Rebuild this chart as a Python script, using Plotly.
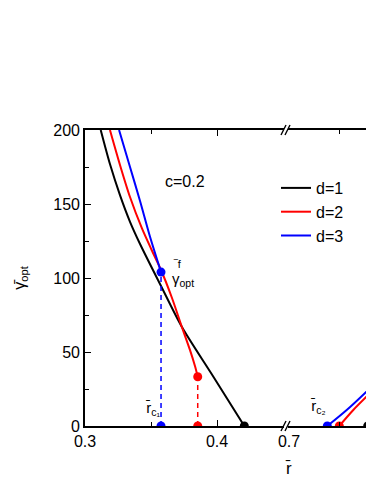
import plotly.graph_objects as go

# ---- data ----
# segment 1 (r from 0.3 to ~0.45)
d1_r = [0.3119, 0.3189, 0.3265, 0.3341, 0.3417, 0.3576, 0.3733, 0.3975, 0.4207]
d1_g = [200, 177, 156, 138, 123, 94.6, 67.1, 33, 0]
d2_r = [0.3189, 0.3265, 0.3341, 0.3430, 0.3505, 0.3576, 0.3659, 0.3733, 0.3795, 0.3833, 0.3854]
d2_g = [200, 176.4, 154.7, 133.8, 118.9, 105.4, 86.5, 67.1, 51.4, 40.5, 33.3]
d3_r = [0.3258, 0.3341, 0.3417, 0.3492, 0.3576]
d3_g = [200, 175, 152, 128, 104]
# segment 2 (r from 0.7)
d1b_r = [0.7787, 0.7840, 0.7900]
d1b_g = [0, 8.8, 22]
d2b_r = [0.7503, 0.7643, 0.7843, 0.7900]
d2b_g = [0, 10.8, 24.3, 28]
d3b_r = [0.7383, 0.7577, 0.7810, 0.7900]
d3b_g = [0, 10.8, 25.5, 31.5]
# critical points
rc1_blue, rc1_red, rc1_black = 0.3576, 0.3854, 0.4207
gf_blue, gf_red = 104, 33.3
rc2_blue, rc2_red, rc2_black = 0.7383, 0.7503, 0.7787

BLACK, RED, BLUE = "#000000", "#ff0000", "#0000ff"
FONT = "Liberation Sans, Arial, sans-serif"

fig = go.Figure()

def line(x, y, color, name=None, axis="x", show=False, dash=None, width=2, shape="spline"):
    fig.add_trace(go.Scatter(x=x, y=y, mode="lines", xaxis=axis, yaxis="y",
                             line=dict(color=color, width=width, dash=dash, shape=shape,
                                       smoothing=0.8),
                             name=name, showlegend=show, hoverinfo="skip"))

def dots(x, y, color, axis="x"):
    fig.add_trace(go.Scatter(x=x, y=y, mode="markers", xaxis=axis, yaxis="y",
                             marker=dict(color=color, size=9), showlegend=False,
                             hoverinfo="skip"))

line(d1_r, d1_g, BLACK, "d=1", show=True)
line(d2_r, d2_g, RED, "d=2", show=True)
line(d3_r, d3_g, BLUE, "d=3", show=True)
line([rc1_blue, rc1_blue], [0, gf_blue], BLUE, dash="5px,4px", width=1.5, shape="linear")
line([rc1_red, rc1_red], [0, gf_red], RED, dash="5px,4px", width=1.5, shape="linear")
dots([rc1_blue], [gf_blue], BLUE)
dots([rc1_red], [gf_red], RED)
dots([rc1_blue], [0], BLUE)
dots([rc1_red], [0], RED)
dots([rc1_black], [0], BLACK)

line(d1b_r, d1b_g, BLACK, axis="x2")
line(d2b_r, d2b_g, RED, axis="x2")
line(d3b_r, d3b_g, BLUE, axis="x2")
dots([rc2_blue], [0], BLUE, axis="x2")
dots([rc2_red], [0], RED, axis="x2")
dots([rc2_black], [0], BLACK, axis="x2")

# page has an 8px body margin; figure is sized so it ends at the window edge
OFF = 8
W, H = 374 - OFF, 484 - OFF
# plot area in screenshot pixels
X0, X1, Y0, Y1 = 85, 374, 130, 426
L, R, T, B = X0 - OFF, 0, Y0 - OFF, H - (Y1 - OFF)
PW, PH = X1 - X0, Y1 - Y0

def px(xp):
    return (xp - X0) / PW

def py(yp):
    return (Y1 - yp) / PH

seg1_end = 284
seg2_start = 288

axis_common = dict(showline=True, linecolor="black", linewidth=1.6, ticks="inside",
                   tickcolor="black", tickwidth=1.3, ticklen=6, showgrid=False,
                   zeroline=False, tickfont=dict(family=FONT, size=16, color="black"),
                   automargin=False)
minor_common = dict(ticks="inside", ticklen=4, tickcolor="black", tickwidth=1.3)

fig.update_layout(
    width=W, height=H,
    margin=dict(l=L, r=R, t=T, b=B, autoexpand=False),
    paper_bgcolor="white", plot_bgcolor="white",
    font=dict(family=FONT, size=16, color="black"),
    xaxis=dict(domain=[0, px(seg1_end)], range=[0.3, 0.3 + (seg1_end - X0) / 1320],
               tickvals=[0.3, 0.4], ticktext=["0.3", "0.4"], mirror="allticks",
               minor=dict(tickvals=[0.35], **minor_common), **axis_common),
    xaxis2=dict(domain=[px(seg2_start), 1], range=[0.699, 0.699 + (X1 - seg2_start) / 1000],
                anchor="y", tickvals=[0.7], ticktext=["0.7"], mirror="allticks",
                minor=dict(tickvals=[0.75], **minor_common), **axis_common),
    yaxis=dict(domain=[0, 1], range=[0, 200], tickvals=[0, 50, 100, 150, 200],
               minor=dict(tickvals=[25, 75, 125, 175], **minor_common),
               title=dict(text="γ\u0304<sub>opt</sub>", font=dict(family=FONT, size=16),
                          standoff=24),
               **axis_common),
    legend=dict(x=px(276), y=py(171), xanchor="left", yanchor="top",
                bgcolor="rgba(0,0,0,0)", font=dict(family=FONT, size=16),
                tracegroupgap=0, itemwidth=30),
    showlegend=True,
)

ann = [
    dict(x=px(185), y=py(181), text="c=0.2", size=16),
    dict(x=px(288), y=py(468), text="r\u0304", size=17),
    dict(x=px(152), y=py(408), text="r\u0304<sub>c\u2081</sub>", size=15),
    dict(x=px(318), y=py(406), text="r\u0304<sub>c\u2082</sub>", size=15),
    dict(x=px(183), y=py(279), text="γ<sub>opt</sub>", size=15),
    dict(x=px(177), y=py(264), text="\u203ef", size=11),
]
fig.update_layout(annotations=[
    dict(x=a["x"], y=a["y"], xref="paper", yref="paper", text=a["text"], showarrow=False,
         font=dict(family=FONT, size=a["size"], color="black"), xanchor="center",
         yanchor="middle")
    for a in ann
])

# axis-break marks on bottom and top axes
shapes = []
for yc in (Y1, Y0):
    for x0 in (281, 285):
        shapes.append(dict(type="line", xref="paper", yref="paper",
                           x0=px(x0), y0=py(yc + 5), x1=px(x0 + 5), y1=py(yc - 5),
                           line=dict(color="black", width=1.4)))
fig.update_layout(shapes=shapes)

fig.write_html("out.html")
